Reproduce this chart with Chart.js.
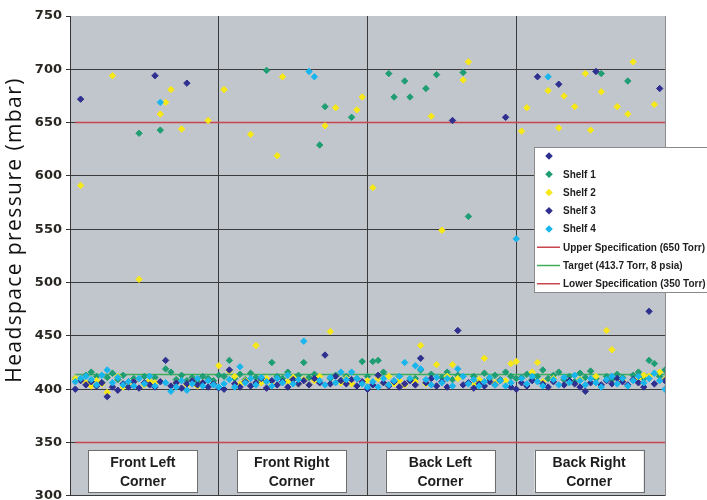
<!DOCTYPE html>
<html>
<head>
<meta charset="utf-8">
<script src="https://cdn.jsdelivr.net/npm/chart.js@4.4.1/dist/chart.umd.min.js"></script>
<style>
  html, body { margin: 0; padding: 0; background: #fff; }
  #wrap { width: 707px; height: 500px; position: relative; }
</style>
</head>
<body>
<div id="wrap"><canvas id="pressureChart"></canvas></div>
<script>
// corners along the x axis, 28 sample positions each
const corners = [["Front Left", "Corner"], ["Front Right", "Corner"], ["Back Left", "Corner"], ["Back Right", "Corner"]];
const perCorner = 28;
const yTicks = [300, 350, 400, 450, 500, 550, 600, 650, 700, 750];

// values in mbar, position n is x = n + 1
const shelf1 = [
  410, 409, 413, 416, 412, 406, 411, 415, 409, 413, 407, 410, 640, 412, 408, 411, 643, 419, 416, 409, 413, 408, 411, 407, 412, 410, 408, 413,
  412, 427, 410, 414, 409, 415, 411, 408, 699, 425, 412, 410, 416, 409, 413, 425, 411, 414, 629, 665, 410, 413, 408, 412, 655, 410, 426, 412,
  426, 427, 416, 696, 674, 412, 689, 674, 410, 418, 682, 414, 695, 411, 416, 409, 413, 697, 562, 412, 408, 415, 410, 413, 409, 416, 412, 410,
  411, 414, 409, 412, 418, 410, 413, 416, 409, 412, 407, 415, 411, 417, 410, 696, 412, 409, 414, 411, 689, 413, 416, 410, 427, 424, 412, 418
];
const shelf2 = [
  410, 591, 406, 403, 408, 405, 397, 694, 412, 402, 405, 407, 503, 404, 408, 406, 658, 669, 681, 406, 644, 404, 408, 403, 406, 652, 405, 422,
  681, 417, 412, 405, 408, 639, 441, 406, 410, 404, 619, 693, 407, 411, 405, 409, 404, 408, 412, 647, 454, 664, 406, 410, 405, 662, 674, 408,
  589, 410, 406, 412, 405, 408, 404, 410, 407, 441, 405, 656, 423, 549, 412, 423, 410, 690, 707, 405, 409, 429, 411, 406, 408, 408, 424, 426,
  642, 664, 416, 425, 407, 680, 410, 645, 675, 406, 665, 409, 696, 643, 412, 679, 455, 437, 665, 408, 658, 707, 410, 413, 412, 667, 416, 409
];
const shelf3 = [
  400, 408, 404, 407, 403, 406, 393, 402, 399, 405, 402, 407, 401, 406, 404, 402, 407, 427, 403, 406, 401, 405, 408, 404, 406, 402, 405, 401,
  400, 418, 405, 402, 407, 403, 406, 410, 401, 408, 404, 407, 402, 409, 405, 408, 404, 410, 406, 432, 405, 412, 408, 405, 409, 403, 407, 400,
  404, 413, 406, 403, 407, 402, 405, 408, 404, 429, 406, 410, 403, 407, 402, 652, 455, 404, 406, 401, 405, 403, 407, 404, 408, 655, 402, 400,
  406, 403, 408, 693, 405, 402, 407, 686, 404, 408, 405, 402, 398, 406, 698, 404, 408, 405, 410, 407, 404, 409, 406, 402, 473, 405, 682, 408
];
const shelf4 = [
  407, 410, 412, 409, 404, 413, 418, 406, 411, 404, 407, 403, 410, 405, 412, 403, 669, 406, 398, 402, 408, 399, 405, 410, 403, 408, 404, 402,
  405, 409, 402, 421, 406, 410, 404, 411, 407, 403, 410, 406, 413, 405, 409, 445, 698, 693, 408, 404, 411, 406, 416, 409, 416, 410, 405, 402,
  407, 402, 410, 404, 408, 412, 425, 410, 422, 419, 409, 404, 411, 406, 410, 403, 419, 412, 405, 409, 403, 407, 411, 404, 408, 403, 406, 541,
  410, 405, 412, 407, 403, 693, 409, 404, 411, 406, 413, 408, 404, 410, 406, 402, 409, 412, 405, 410, 403, 408, 412, 406, 410, 415, 408, 400
];
// first, unlabeled series in the legend
const extraX = [2, 16, 22];
const extraY = [672, 694, 687];

const upperSpec = 650;
const target = 413.7;
const lowerSpec = 350;

const toPoints = arr => arr.map((v, i) => ({ x: i + 1, y: v }));
const flatLine = v => [{ x: 1, y: v }, { x: corners.length * perCorner, y: v }];

function markerSet(label, data, color, order) {
  return {
    label: label, data: data, order: order,
    pointStyle: 'rectRot', pointRadius: 3.2, pointHoverRadius: 3.2,
    borderWidth: 1, borderColor: color, backgroundColor: color, showLine: false
  };
}
function lineSet(label, value, color) {
  return {
    label: label, data: flatLine(value), order: 10, showLine: true,
    borderColor: color, borderWidth: 1.5, pointRadius: 0, backgroundColor: color
  };
}

const navy = '#2e2f8f', green = '#1e9e72', yellow = '#f7e818', cyan = '#19b6ee';

const bgPlugin = {
  id: 'bgPlugin',
  beforeDraw(chart) {
    const { ctx, chartArea: a } = chart;
    ctx.save();
    ctx.fillStyle = '#c1c5cc';
    ctx.fillRect(a.left, a.top, a.right - a.left, a.bottom - a.top);
    ctx.restore();
  },
  afterDraw(chart) {
    const { ctx } = chart;
    const xs = chart.scales.x, ys = chart.scales.y;
    ctx.save();
    // corner boxes
    ctx.font = 'bold 14px "Liberation Sans", Arial, sans-serif';
    ctx.textAlign = 'center';
    ctx.textBaseline = 'middle';
    corners.forEach((c, k) => {
      const cx = xs.getPixelForValue(perCorner * k + perCorner / 2) - 1.5;
      const top = ys.getPixelForValue(342.5), bot = ys.getPixelForValue(303.5);
      ctx.fillStyle = '#fff';
      ctx.fillRect(cx - 54.5, top, 109, bot - top);
      ctx.strokeStyle = '#6e6e6e';
      ctx.lineWidth = 1;
      ctx.strokeRect(Math.round(cx - 54.5) + 0.5, Math.round(top) + 0.5, 109, Math.round(bot - top));
      ctx.fillStyle = '#1e1e1e';
      ctx.fillText(c[0], cx, top + 13);
      ctx.fillText(c[1], cx, top + 32);
    });
    // y title
    ctx.save();
    ctx.translate(15, 230);
    ctx.rotate(-Math.PI / 2);
    ctx.font = '21px "Open Sans", sans-serif';
    ctx.letterSpacing = '1.4px';
    ctx.fillStyle = '#111';
    ctx.textAlign = 'center';
    ctx.textBaseline = 'middle';
    ctx.fillText('Headspace pressure (mbar)', 0, 0);
    ctx.restore();
    // legend box
    const lx = 534.5, ly = 147.5;
    ctx.fillStyle = '#fff';
    ctx.fillRect(lx, ly, 190, 145);
    ctx.strokeStyle = '#8a8a8a';
    ctx.lineWidth = 1;
    ctx.strokeRect(lx, ly, 190, 145);
    ctx.font = 'bold 10px "Liberation Sans", Arial, sans-serif';
    ctx.textAlign = 'left';
    ctx.textBaseline = 'middle';
    chart.data.datasets.forEach((ds, i) => {
      const y = 156 + i * 18.25;
      if (ds.showLine) {
        ctx.strokeStyle = ds.borderColor;
        ctx.lineWidth = 1.5;
        ctx.beginPath();
        ctx.moveTo(537, y); ctx.lineTo(560, y);
        ctx.stroke();
      } else {
        ctx.fillStyle = ds.backgroundColor;
        ctx.beginPath();
        ctx.moveTo(549, y - 3.8); ctx.lineTo(552.8, y); ctx.lineTo(549, y + 3.8); ctx.lineTo(545.2, y);
        ctx.closePath();
        ctx.fill();
      }
      ctx.fillStyle = '#1e1e1e';
      ctx.fillText(ds.label, 563, y + 0.5);
    });
    ctx.restore();
  }
};

new Chart(document.getElementById('pressureChart'), {
  type: 'scatter',
  data: {
    datasets: [
      markerSet('', extraX.map((x, i) => ({ x: x, y: extraY[i] })), navy, 3),
      markerSet('Shelf 1', toPoints(shelf1), green, 5),
      markerSet('Shelf 2', toPoints(shelf2), yellow, 4),
      markerSet('Shelf 3', toPoints(shelf3), navy, 2),
      markerSet('Shelf 4', toPoints(shelf4), cyan, 1),
      lineSet('Upper Specification (650 Torr)', upperSpec, '#c8464e'),
      lineSet('Target (413.7 Torr, 8 psia)', target, '#3fae5a'),
      lineSet('Lower Specification (350 Torr)', lowerSpec, '#c8464e')
    ]
  },
  options: {
    responsive: true,
    maintainAspectRatio: false,
    animation: false,
    layout: { padding: { left: 0, top: 16, right: 42, bottom: 2 } },
    plugins: { legend: { display: false }, tooltip: { enabled: false } },
    scales: {
      x: {
        type: 'linear', min: 0, max: corners.length * perCorner,
        ticks: { display: false, stepSize: perCorner },
        border: { display: false },
        grid: {
          drawTicks: false, lineWidth: 1,
          color: c => c.tick.value === 0 ? 'rgba(0,0,0,0)' : (c.tick.value === corners.length * perCorner ? '#8c8c8c' : '#3a3a3a')
        }
      },
      y: {
        min: yTicks[0], max: yTicks[yTicks.length - 1],
        afterBuildTicks: s => { s.ticks = yTicks.map(v => ({ value: v })); },
        afterFit: s => { s.width = 70; s.paddingTop = 0; s.paddingBottom = 0; },
        ticks: {
          padding: 4, color: '#2a2622',
          font: { family: '"DejaVu Sans", sans-serif', size: 13, weight: 'bold' }
        },
        border: { color: '#333', width: 1 },
        grid: {
          tickLength: 4, tickColor: '#333', lineWidth: 1,
          color: c => c.tick.value === 750 ? 'rgba(0,0,0,0)' : '#3a3a3a'
        }
      }
    }
  },
  plugins: [bgPlugin]
});
</script>
</body>
</html>
